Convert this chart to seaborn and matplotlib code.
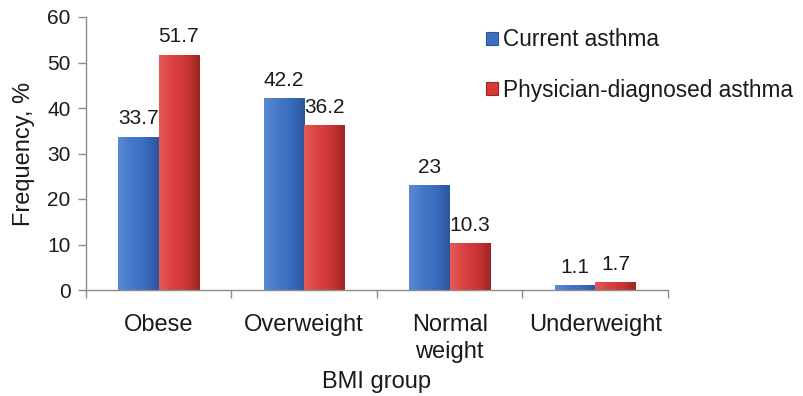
import numpy as np
import pandas as pd
import matplotlib
matplotlib.use("Agg")
import matplotlib.pyplot as plt
import seaborn as sns
from matplotlib.colors import LinearSegmentedColormap

categories = ["Obese", "Overweight", "Normal\nweight", "Underweight"]
series = ["Current asthma", "Physician-diagnosed asthma"]
current_asthma = [33.7, 42.2, 23, 1.1]
physician_diagnosed = [51.7, 36.2, 10.3, 1.7]
y_ticks = [0, 10, 20, 30, 40, 50, 60]

df = pd.DataFrame({
    "BMI group": categories * 2,
    "Series": [series[0]] * len(categories) + [series[1]] * len(categories),
    "Frequency": current_asthma + physician_diagnosed,
})

sns.set_theme(style="white")
plt.rcParams["font.family"] = ["Liberation Sans", "DejaVu Sans"]
text_color = "#1a1a1a"
spine_color = "#8c8c8c"

base_colors = {series[0]: "#3d6fc0", series[1]: "#d63a38"}
shades = {
    series[0]: ["#5b8ad4", "#4478c8", "#3a6cbd", "#2b559c"],
    series[1]: ["#e45a58", "#da4140", "#cc3533", "#9e2524"],
}

fig = plt.figure(figsize=(8.04, 3.96), dpi=100)
ax = fig.add_axes([86 / 804, 1 - 290 / 396, (668 - 86) / 804, (290 - 17) / 396])

sns.barplot(data=df, x="BMI group", y="Frequency", hue="Series",
            palette=base_colors, width=0.555, saturation=1, ax=ax,
            legend=False, edgecolor="none")

# horizontal shading on each bar, clipped to the bar outline
for container, name in zip(ax.containers, series):
    cmap = LinearSegmentedColormap.from_list(name, shades[name])
    grad = np.linspace(0, 1, 64).reshape(1, -1)
    for bar in container:
        x0, w, h = bar.get_x(), bar.get_width(), bar.get_height()
        im = ax.imshow(grad, cmap=cmap, extent=[x0, x0 + w, 0, h],
                       aspect="auto", zorder=bar.get_zorder() + 0.1,
                       interpolation="bicubic")
        im.set_clip_path(bar)
    labels = ["{:g}".format(v) for v in container.datavalues]
    ax.bar_label(container, labels=labels, padding=6, fontsize=15,
                 color=text_color)

ax.set_ylim(0, 60)
ax.set_xlim(-0.5, 3.5)
ax.set_aspect("auto")

ax.set_yticks(y_ticks)
ax.set_xticks(range(len(categories)))
ax.set_xticklabels(categories, fontsize=17, color=text_color,
                   linespacing=1.3)
ax.set_xticks([-0.5, 0.5, 1.5, 2.5, 3.5], minor=True)
ax.tick_params(axis="x", which="major", length=0, pad=17)
ax.tick_params(axis="x", which="minor", length=6, width=1,
               color=spine_color, direction="out", bottom=True)
ax.tick_params(axis="y", length=6, width=1, color=spine_color,
               direction="out", labelsize=15, labelcolor=text_color,
               left=True, pad=5)

for side in ("top", "right"):
    ax.spines[side].set_visible(False)
for side in ("left", "bottom"):
    ax.spines[side].set_color(spine_color)
    ax.spines[side].set_linewidth(1)

ax.set_xlabel("BMI group", fontsize=17, color=text_color, labelpad=6)
ax.set_ylabel("Frequency, %", fontsize=17, color=text_color, labelpad=9)

handles = [plt.Rectangle((0, 0), 1, 1, facecolor=base_colors[s],
                         edgecolor=shades[s][-1], linewidth=0.8)
           for s in series]
fig.legend(handles, series, loc="upper left",
           bbox_to_anchor=(466 / 804, 1 - 8 / 396), frameon=False,
           fontsize=16.3, handlelength=0.5, handleheight=0.5,
           handletextpad=0.25, labelspacing=1.2, labelcolor=text_color)

fig.savefig("out.png", dpi=100, facecolor="white")
